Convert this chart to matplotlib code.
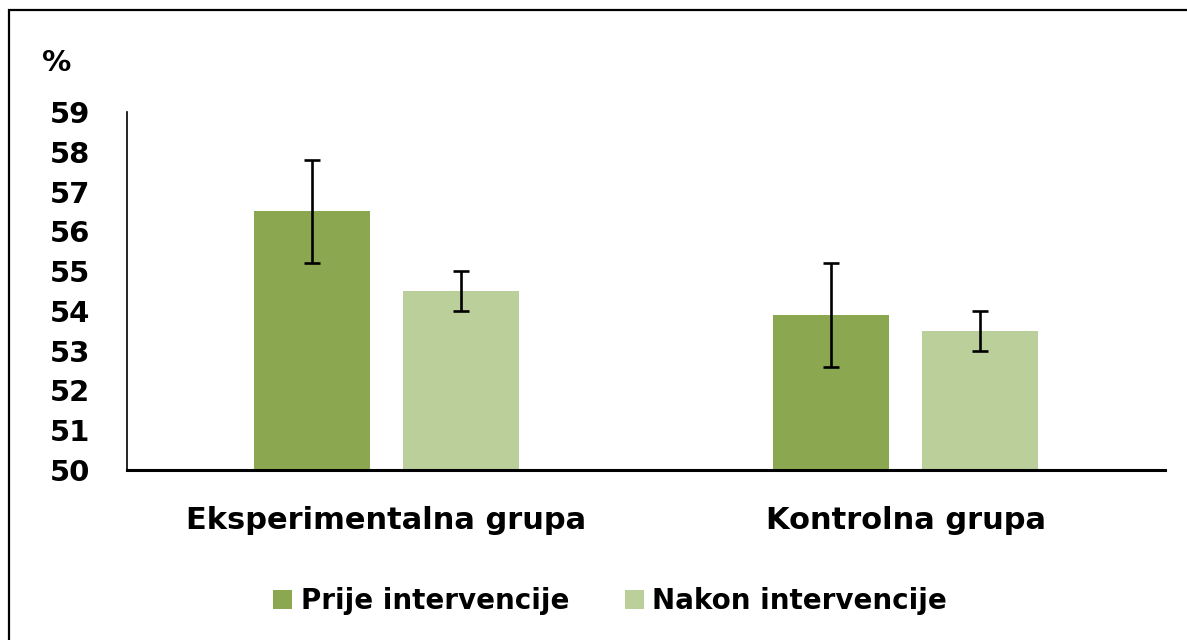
import numpy as np
import matplotlib.pyplot as plt
from matplotlib.patches import Rectangle

# data
groups = ['Eksperimentalna grupa', 'Kontrolna grupa']
series = ['Prije intervencije', 'Nakon intervencije']
prije = [56.5, 53.9]
nakon = [54.5, 53.5]
prije_err = [1.3, 1.3]
nakon_err = [0.5, 0.5]
yticks = list(range(50, 60))

colors = ['#8BA850', '#BBCF9A']

plt.rcParams['font.family'] = ['DejaVu Sans']
plt.rcParams['font.weight'] = 'bold'

fig = plt.figure(figsize=(11.87, 6.4), dpi=100)
W, H = 1187, 640
ax = fig.add_axes([127 / W, 1 - 470 / H, (1165 - 127) / W, (470 - 112) / H])

x = np.arange(len(groups))
bw = 0.2235
off = 0.1426
ekw = dict(ecolor='black', elinewidth=1.9, capsize=6, capthick=1.9)
b1 = ax.bar(x - off, prije, bw, color=colors[0], yerr=prije_err, error_kw=ekw, label=series[0])
b2 = ax.bar(x + off, nakon, bw, color=colors[1], yerr=nakon_err, error_kw=ekw, label=series[1])

ax.set_ylim(50, 59)
ax.set_xlim(-0.5, 1.5)
ax.set_yticks(yticks)
ax.set_yticklabels([str(t) for t in yticks], fontsize=21, fontweight='bold')
ax.set_xticks(x)
ax.set_xticklabels(groups, fontsize=22, fontweight='bold')
ax.tick_params(axis='y', length=0, pad=26.5)
ax.tick_params(axis='x', length=0, pad=26)
ax.spines['top'].set_visible(False)
ax.spines['right'].set_visible(False)
ax.spines['left'].set_linewidth(1.2)
ax.spines['bottom'].set_linewidth(2.2)

fig.text(42 / W, 1 - 63 / H, '%', fontsize=21, fontweight='bold', va='center', ha='left')

leg = fig.legend(handles=[b1, b2], labels=series, loc='center', bbox_to_anchor=(0.514, 1 - 601 / H),
                 ncol=2, frameon=False, fontsize=20, handlelength=0.7, handleheight=0.7,
                 handletextpad=0.3, columnspacing=2.0)
for t in leg.get_texts():
    t.set_fontweight('bold')

# outer frame of the chart area (cut off at right and bottom)
fig.patches.append(Rectangle((9 / W, -0.1), 1.2, 1 - 10 / H + 0.1, transform=fig.transFigure,
                             fill=False, edgecolor='black', linewidth=1.6))

fig.savefig('out.png', dpi=100)
